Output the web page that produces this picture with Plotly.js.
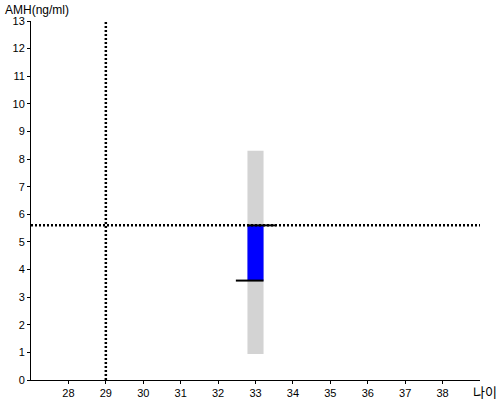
<!DOCTYPE html>
<html>
<head>
<meta charset="utf-8">
<script src="https://cdn.plot.ly/plotly-3.0.1.min.js"></script>
<style>html,body{margin:0;padding:0;background:#fff;}#chart{width:500px;height:400px;}</style>
</head>
<body>
<div id="chart"></div>
<script>
// Data
const ages = [33];
const rangeLow = [0.94];
const rangeHigh = [8.3];
const bandLow = [3.6];
const bandHigh = [5.6];
const refAge = [29];
const refAmh = [5.6];
const xTicks = [28, 29, 30, 31, 32, 33, 34, 35, 36, 37, 38];
const yTicks = [0, 1, 2, 3, 4, 5, 6, 7, 8, 9, 10, 11, 12, 13];
const xRange = [27, 39];
const yRange = [0, 13];

const barW = 0.43;
const font = {family: 'Liberation Sans, Arial, sans-serif', size: 11, color: '#000'};

const traces = [
  {type: 'bar', x: ages, base: rangeLow, y: rangeHigh.map((v, i) => v - rangeLow[i]),
   width: barW, marker: {color: '#d3d3d3', line: {width: 0}}, hoverinfo: 'none'},
  {type: 'bar', x: ages, base: bandLow, y: bandHigh.map((v, i) => v - bandLow[i]),
   width: barW, marker: {color: '#0000ff', line: {width: 0}}, hoverinfo: 'none'},
  // vertical reference line
  {type: 'scatter', mode: 'lines', x: [refAge[0], refAge[0]], y: [yRange[0], yRange[1]],
   line: {color: '#000', width: 2.5, dash: '2px,2px'}, hoverinfo: 'none'},
  // horizontal reference line
  {type: 'scatter', mode: 'lines', x: [xRange[0], xRange[1]], y: [refAmh[0], refAmh[0]],
   line: {color: '#000', width: 2.5, dash: '2px,2px'}, hoverinfo: 'none'},
  // lower marker line (extends left)
  {type: 'scatter', mode: 'lines', x: [ages[0] - barW / 2 - 0.31, ages[0] + barW / 2], y: [bandLow[0], bandLow[0]],
   line: {color: '#000', width: 2}, hoverinfo: 'none'},
  // upper marker line (extends right)
  {type: 'scatter', mode: 'lines', x: [ages[0] - barW / 2, ages[0] + barW / 2 + 0.33], y: [bandHigh[0], bandHigh[0]],
   line: {color: '#000', width: 2}, hoverinfo: 'none'}
];

const layout = {
  width: 500, height: 400,
  margin: {l: 31, r: 20, t: 21, b: 20, pad: 0},
  paper_bgcolor: '#fff', plot_bgcolor: '#fff',
  showlegend: false,
  barmode: 'overlay',
  font: font,
  xaxis: {
    range: xRange, tickvals: xTicks, ticktext: xTicks.map(String),
    showgrid: false, zeroline: false, showline: true, linecolor: '#000', linewidth: 1,
    ticks: 'outside', ticklen: 3, tickcolor: '#000', tickfont: font, fixedrange: true
  },
  yaxis: {
    range: yRange, tickvals: yTicks, ticktext: yTicks.map(String),
    showgrid: false, zeroline: false, showline: true, linecolor: '#000', linewidth: 1,
    ticks: 'outside', ticklen: 3, tickcolor: '#000', tickfont: font, fixedrange: true
  },
  annotations: [
    {text: 'AMH(ng/ml)', xref: 'paper', yref: 'paper', x: 0, y: 1, xanchor: 'left', yanchor: 'bottom',
     xshift: -27, yshift: 3, borderpad: 0, showarrow: false, font: {family: 'Liberation Sans, Arial, sans-serif', size: 12, color: '#000'}},
    {text: '나이', xref: 'paper', yref: 'paper', x: 1, y: 0, xanchor: 'right', yanchor: 'top',
     xshift: 18, yshift: -1, borderpad: 0, showarrow: false, font: {family: 'Noto Sans CJK KR, sans-serif', size: 13, color: '#000'}}
  ]
};

Plotly.newPlot('chart', traces, layout, {staticPlot: true, displayModeBar: false});
</script>
</body>
</html>
